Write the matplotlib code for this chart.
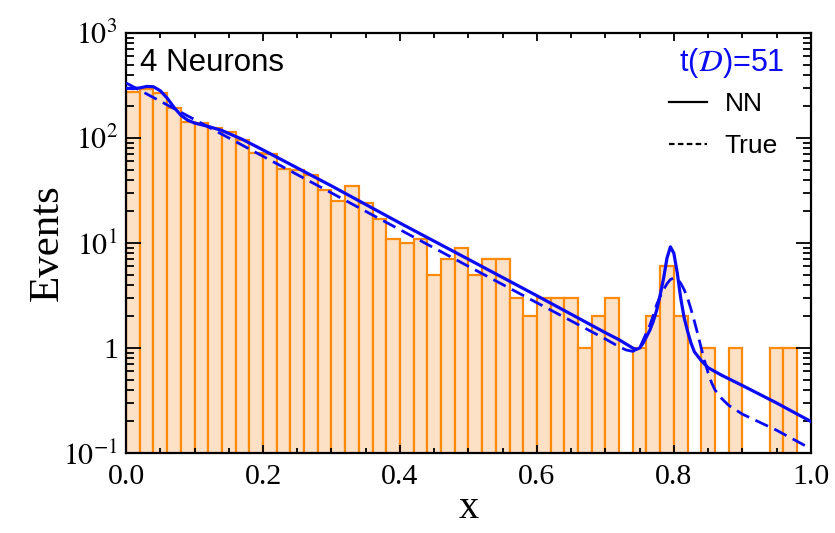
import numpy as np
import matplotlib

matplotlib.use("Agg")
import matplotlib.pyplot as plt
from matplotlib.lines import Line2D
from matplotlib.ticker import LogLocator, MultipleLocator, NullFormatter

# histogram of the sample, 50 bins of width 0.02 on [0, 1]
bin_edges = np.linspace(0.0, 1.0, 51)
counts = [276, 291, 267, 194, 141, 138, 126, 115, 96, 72,
          70, 51, 50, 44, 32, 25, 35, 24, 17, 11,
          10, 11, 5, 7, 9, 5, 7, 7, 3, 2,
          3, 3, 3, 1, 2, 3, 0, 1, 2, 6,
          2, 0, 1, 0, 1, 0, 0, 1, 1, 0]

# "True" curve (dashed)
true_x = [0.0, 0.1, 0.2, 0.3, 0.4, 0.5, 0.6, 0.7, 0.72, 0.73, 0.74, 0.75,
          0.76, 0.765, 0.77, 0.775, 0.78, 0.785, 0.79, 0.795, 0.80, 0.805,
          0.81, 0.815, 0.82, 0.825, 0.83, 0.835, 0.84, 0.845, 0.85, 0.855,
          0.86, 0.87, 0.88, 0.90, 0.95, 1.0]
true_y = [335, 150, 67, 30, 13.4, 6.0, 2.7, 1.22, 1.03, 0.96, 0.93, 1.0,
          1.4, 1.65, 2.05, 2.6, 3.1, 3.6, 4.1, 4.5, 4.65, 4.55,
          4.15, 3.6, 3.0, 2.35, 1.8, 1.35, 1.0, 0.75, 0.58, 0.47,
          0.40, 0.33, 0.285, 0.235, 0.165, 0.11]

# "NN" curve (solid)
nn_x = [0.0, 0.01, 0.02, 0.03, 0.04, 0.05, 0.06, 0.07, 0.08, 0.09, 0.10,
        0.12, 0.14, 0.17, 0.2, 0.3, 0.4, 0.5, 0.6, 0.7, 0.72, 0.74, 0.745,
        0.75, 0.755, 0.76, 0.765, 0.77, 0.775, 0.78, 0.785, 0.79, 0.795,
        0.80, 0.805, 0.81, 0.815, 0.82, 0.825, 0.83, 0.84, 0.85, 0.87,
        0.9, 0.95, 1.0]
nn_y = [298, 296, 300, 310, 308, 282, 240, 196, 165, 148, 139,
        129, 118, 97, 77, 35, 15.5, 7.0, 3.15, 1.4, 1.2, 1.0, 0.97,
        1.0, 1.11, 1.28, 1.48, 1.8, 2.3, 3.2, 4.6, 7.2, 9.2,
        8.0, 5.2, 3.0, 1.95, 1.45, 1.12, 0.92, 0.76, 0.65, 0.55,
        0.44, 0.3, 0.2]

y_ticks = [0.1, 1, 10, 100, 1000]
y_tick_labels = [r"$10^{-1}$", "1", r"$10^{1}$", r"$10^{2}$", r"$10^{3}$"]
x_ticks = [0.0, 0.2, 0.4, 0.6, 0.8, 1.0]
x_tick_labels = ["0.0", "0.2", "0.4", "0.6", "0.8", "1.0"]

plt.rcParams["mathtext.fontset"] = "stix"
plt.rcParams["font.family"] = ["Liberation Serif", "DejaVu Serif"]

SANS = ["Liberation Sans", "DejaVu Sans"]
BAR_FACE = "#fde1c7"
BAR_EDGE = "#ff8a0a"
BLUE = "#0b0bf5"


def makePlot():
    fig = plt.figure(figsize=(8.35, 5.33), dpi=100)
    ax = fig.add_axes([0.151, 0.150, 0.820, 0.788])
    ax.set_yscale("log")

    # bars (skip the empty bins, nothing is drawn there)
    lefts = [bin_edges[i] for i in range(len(counts)) if counts[i] > 0]
    heights = [c for c in counts if c > 0]
    ax.bar(
        lefts,
        heights,
        width=0.02,
        align="edge",
        bottom=0.01,
        color=BAR_FACE,
        edgecolor=BAR_EDGE,
        linewidth=1.6,
        zorder=1,
    )

    ax.plot(true_x, true_y, color=BLUE, linewidth=2.0, linestyle=(0, (5, 2.5)), zorder=3)
    ax.plot(nn_x, nn_y, color=BLUE, linewidth=2.3, zorder=3)

    ax.set_xlim(0, 1)
    ax.set_ylim(0.1, 1000)

    ax.set_xticks(x_ticks, labels=x_tick_labels)
    ax.xaxis.set_minor_locator(MultipleLocator(0.05))
    ax.set_yticks(y_ticks, labels=y_tick_labels)
    ax.yaxis.set_minor_locator(LogLocator(base=10, subs=range(2, 10), numticks=20))
    ax.yaxis.set_minor_formatter(NullFormatter())

    ax.tick_params(which="both", direction="in", top=True, right=True,
                   labelsize=21.5, width=1.3)
    ax.tick_params(axis="y", which="major", length=11, pad=6)
    ax.tick_params(axis="y", which="minor", length=6)
    ax.tick_params(axis="x", which="major", length=6, pad=8)
    ax.tick_params(axis="x", which="minor", length=3.5)

    for s in ax.spines.values():
        s.set_linewidth(1.6)

    ax.set_xlabel("x", fontsize=29, labelpad=0)
    ax.set_ylabel("Events", fontsize=31, labelpad=-3)

    ax.text(0.02, 0.965, "4 Neurons", transform=ax.transAxes, fontsize=22.5,
            family=SANS, ha="left", va="top")
    ax.text(0.962, 0.928, r"t($\mathcal{D}$)=51", transform=ax.transAxes,
            fontsize=22, family=SANS, color=BLUE, ha="right", va="center")

    handles = [
        Line2D([], [], color="black", linewidth=1.6),
        Line2D([], [], color="black", linewidth=1.6, linestyle=(0, (2.5, 1.5))),
    ]
    ax.legend(
        handles,
        ["NN", "True"],
        loc="upper right",
        bbox_to_anchor=(0.967, 0.885),
        frameon=False,
        prop={"family": SANS, "size": 19},
        handlelength=1.45,
        handletextpad=0.65,
        labelspacing=0.68,
        borderaxespad=0.0,
    )

    fig.savefig("out.png", dpi=100)


def main():
    makePlot()


if __name__ == "__main__":
    main()
